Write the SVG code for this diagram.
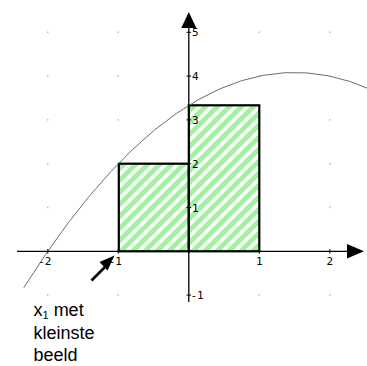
<svg xmlns="http://www.w3.org/2000/svg" width="367" height="366" viewBox="0 0 367 366">
<defs>
<style>
.axis{stroke:#000;stroke-width:1.3;fill:none}
.tick{stroke:#000;stroke-width:1;fill:none}
.lbl{font-family:"DejaVu Sans Mono","Liberation Mono",monospace;font-size:11px;fill:#000}
.bar{fill:url(#hatch);stroke:#000;stroke-width:2.2}
.dot{fill:#bdbdbd}
.caption{font-family:"Liberation Sans",Arial,sans-serif;font-size:18px;fill:#000}
</style>
<pattern id="hatch" patternUnits="userSpaceOnUse" width="12" height="12">
<rect width="12" height="12" fill="#fff"/>
<path d="M-3,3 L3,-3 M0,12 L12,0 M9,15 L15,9" stroke="#a6f0a6" stroke-width="5"/>
</pattern>
</defs>
<rect width="367" height="366" fill="#fff"/>
<g id="grid">
<rect class="dot" x="47" y="31.5" width="1.5" height="1.5"/>
<rect class="dot" x="117.5" y="31.5" width="1.5" height="1.5"/>
<rect class="dot" x="258.5" y="31.5" width="1.5" height="1.5"/>
<rect class="dot" x="329" y="31.5" width="1.5" height="1.5"/>
<rect class="dot" x="47" y="75.3" width="1.5" height="1.5"/>
<rect class="dot" x="117.5" y="75.3" width="1.5" height="1.5"/>
<rect class="dot" x="258.5" y="75.3" width="1.5" height="1.5"/>
<rect class="dot" x="329" y="75.3" width="1.5" height="1.5"/>
<rect class="dot" x="47" y="119.1" width="1.5" height="1.5"/>
<rect class="dot" x="117.5" y="119.1" width="1.5" height="1.5"/>
<rect class="dot" x="329" y="119.1" width="1.5" height="1.5"/>
<rect class="dot" x="47" y="162.9" width="1.5" height="1.5"/>
<rect class="dot" x="329" y="162.9" width="1.5" height="1.5"/>
<rect class="dot" x="47" y="206.7" width="1.5" height="1.5"/>
<rect class="dot" x="329" y="206.7" width="1.5" height="1.5"/>
<rect class="dot" x="47" y="294.3" width="1.5" height="1.5"/>
<rect class="dot" x="117.5" y="294.3" width="1.5" height="1.5"/>
<rect class="dot" x="258.5" y="294.3" width="1.5" height="1.5"/>
<rect class="dot" x="329" y="294.3" width="1.5" height="1.5"/>
</g>
<g id="bar-left"><rect class="bar" x="118.8" y="163.7" width="70" height="87.6"/></g>
<g id="bar-right"><rect class="bar" x="188.8" y="105.3" width="70.5" height="146"/></g>
<g id="curve"><path d="M23.8,287.7 Q198,10.8 372.1,90.1" fill="none" stroke="#6e6e6e" stroke-width="1"/></g>
<g id="axes">
<line class="axis" x1="17" y1="251.3" x2="350" y2="251.3"/>
<polygon points="364,251.3 347,244 347,258.6" fill="#000"/>
<line class="axis" x1="188.8" y1="302" x2="188.8" y2="26"/>
<polygon points="188.8,12 181.3,28 196.3,28" fill="#000"/>
<path class="tick" d="M47.8,249 V253.6 M118.3,249 V253.6 M259.3,249 V253.6 M329.8,249 V253.6 M186.5,32.3 H191.1 M186.5,76.1 H191.1 M186.5,119.9 H191.1 M186.5,163.7 H191.1 M186.5,207.5 H191.1 M186.5,295.1 H191.1"/>
</g>
<g id="axis-labels">
<text class="lbl" x="51.5" y="264.5" text-anchor="end">-2</text>
<text class="lbl" x="122" y="264.5" text-anchor="end">-1</text>
<text class="lbl" x="259.3" y="264.5" text-anchor="middle">1</text>
<text class="lbl" x="329.8" y="264.5" text-anchor="middle">2</text>
<text class="lbl" x="192" y="36.3">5</text>
<text class="lbl" x="192" y="80">4</text>
<text class="lbl" x="192" y="124">3</text>
<text class="lbl" x="192" y="167.7">2</text>
<text class="lbl" x="192" y="211.5">1</text>
<text class="lbl" x="190.5" y="299">-1</text>
</g>
<g id="connectors">
<line x1="91.5" y1="280.5" x2="105" y2="267" stroke="#000" stroke-width="2.6"/>
<polygon points="114.5,255.5 99.5,262 107.5,270.5" fill="#000"/>
</g>
<g id="caption">
<text class="caption" x="33.5" y="316">x<tspan font-size="11" dy="3">1</tspan><tspan dy="-3"> met</tspan></text>
<text class="caption" x="33.5" y="338.5">kleinste</text>
<text class="caption" x="33.5" y="361">beeld</text>
</g>
</svg>
